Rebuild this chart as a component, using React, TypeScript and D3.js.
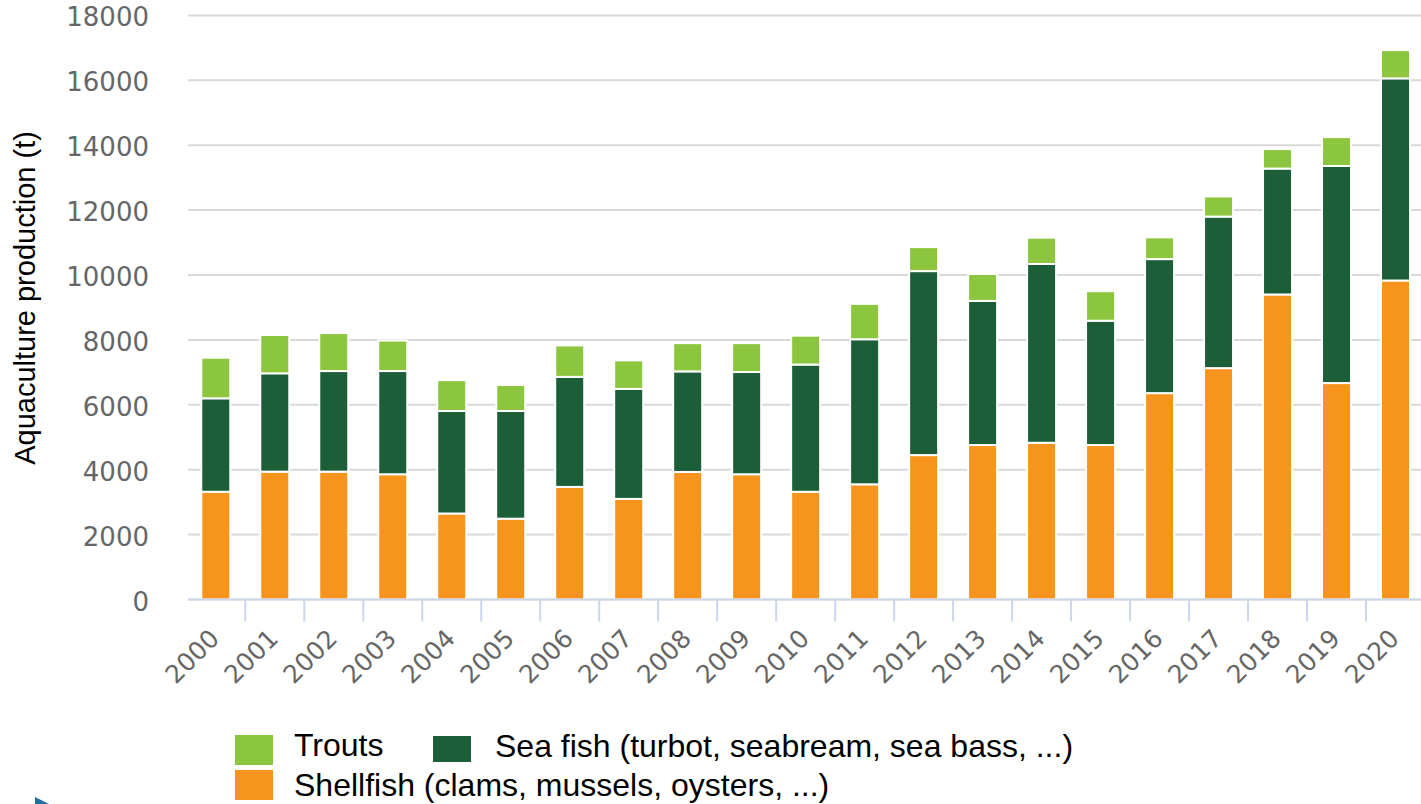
import React from "react";
import * as d3 from "d3";

const years = ["2000","2001","2002","2003","2004","2005","2006","2007","2008","2009","2010","2011","2012","2013","2014","2015","2016","2017","2018","2019","2020"];
const shellfish = [3320,3940,3940,3860,2650,2490,3470,3100,3930,3860,3320,3550,4450,4760,4830,4760,6360,7130,9400,6670,9830];
const seaFish = [2880,3030,3100,3180,3160,3320,3390,3390,3100,3150,3920,4470,5670,4440,5510,3830,4130,4670,3880,6690,6230];
const trouts = [1250,1180,1170,940,950,800,970,880,870,890,890,1090,740,830,810,910,670,620,600,890,870];
const yTicks = [0,2000,4000,6000,8000,10000,12000,14000,16000,18000];

const seriesKeys = ["shellfish","seaFish","trouts"];
const seriesColors: Record<string,string> = { shellfish: "#f7941d", seaFish: "#1b5e37", trouts: "#8cc63f" };

const W = 1421, H = 804;

export default function App() {
  const rows = years.map((y, i) => ({ year: y, shellfish: shellfish[i], seaFish: seaFish[i], trouts: trouts[i] }));
  const stacked = d3.stack<any>().keys(seriesKeys)(rows);
  const x = d3.scaleBand<string>().domain(years).range([186.3, 1425]).padding(0);
  const y = d3.scaleLinear().domain([0, 18000]).range([599.5, 15.4]);
  const step = x.step();
  const barW = 29;
  const tickFont = "'DejaVu Sans', Verdana, sans-serif";
  const arial = "'Liberation Sans', Arial, sans-serif";

  return (
    <div style={{ position: "absolute", left: 0, top: 0 }}>
      <svg width={W} height={H} style={{ display: "block", background: "#fff" }}>
        {/* gridlines */}
        {yTicks.map((t) => (
          <line key={"g" + t} x1={188} x2={W} y1={y(t)} y2={y(t)} stroke="#d9d9d9" strokeWidth={2} />
        ))}
        {/* y tick labels */}
        {yTicks.map((t) => (
          <text key={"yl" + t} x={149} y={y(t) + 11} textAnchor="end" fontFamily={tickFont} fontSize={26} fill="#666">
            {t}
          </text>
        ))}
        {/* bars */}
        {stacked.map((s) => (
          <g key={s.key} fill={seriesColors[s.key]}>
            {s.map((d, i) => {
              const cx = (x(years[i]) as number) + step / 2;
              return (
                <rect key={i} x={cx - barW / 2} width={barW} y={y(d[1])} height={y(d[0]) - y(d[1])} stroke="#fff" strokeWidth={2} />
              );
            })}
          </g>
        ))}
        {/* x axis */}
        <line x1={188} x2={W} y1={y(0)} y2={y(0)} stroke="#ccd6eb" strokeWidth={2} />
        {years.slice(1).map((yr) => (
          <line key={"t" + yr} x1={x(yr) as number} x2={x(yr) as number} y1={y(0)} y2={y(0) + 22} stroke="#ccd6eb" strokeWidth={2} />
        ))}
        {years.map((yr) => {
          const cx = (x(yr) as number) + step / 2;
          return (
            <text key={"xl" + yr} transform={`translate(${cx + 5},${640}) rotate(-45)`} textAnchor="end" fontFamily={tickFont} fontSize={25} fill="#666">
              {yr}
            </text>
          );
        })}
        {/* y axis title */}
        <text transform="translate(35,298) rotate(-90)" textAnchor="middle" fontFamily={arial} fontSize={29} fill="#000">
          Aquaculture production (t)
        </text>
        {/* legend */}
        <rect x={235} y={735} width={38} height={30} fill={seriesColors.trouts} />
        <text x={294} y={756} fontFamily={arial} fontSize={32} fill="#000">Trouts</text>
        <rect x={433} y={736} width={38} height={26} fill={seriesColors.seaFish} />
        <text x={495} y={757} fontFamily={arial} fontSize={32} fill="#000">Sea fish (turbot, seabream, sea bass, ...)</text>
        <rect x={235} y={770} width={38} height={30} fill={seriesColors.shellfish} />
        <text x={294} y={796} fontFamily={arial} fontSize={32} fill="#000">Shellfish (clams, mussels, oysters, ...)</text>
        {/* small decorative marker */}
        <path d="M35,797 L49,804 L35,811 Z" fill="#1f6fa5" />
      </svg>
    </div>
  );
}
